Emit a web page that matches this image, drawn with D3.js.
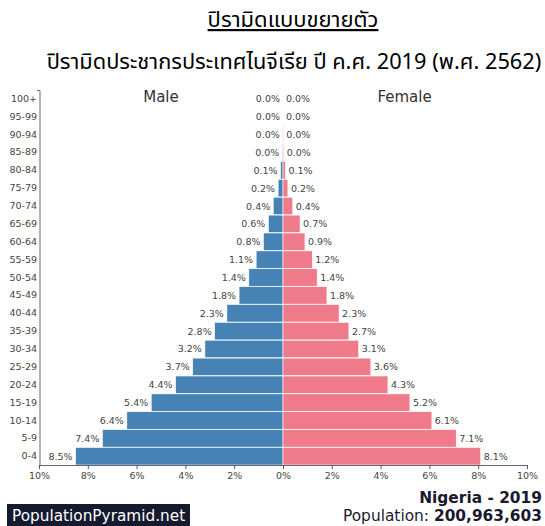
<!DOCTYPE html>
<html><head><meta charset="utf-8">
<script src="https://cdn.jsdelivr.net/npm/d3@7"></script>
<style>body{margin:0;background:#fff}svg{display:block}</style>
</head><body>
<svg id="c" width="545" height="526"></svg>
<script>
const ageGroups = ["100+","95-99","90-94","85-89","80-84","75-79","70-74","65-69","60-64","55-59","50-54","45-49","40-44","35-39","30-34","25-29","20-24","15-19","10-14","5-9","0-4"];
const maleValues = [0.0,0.0,0.01,0.03,0.1,0.2,0.4,0.6,0.8,1.1,1.4,1.8,2.3,2.8,3.2,3.7,4.4,5.4,6.4,7.4,8.5];
const femaleValues = [0.0,0.0,0.01,0.03,0.1,0.2,0.4,0.7,0.9,1.2,1.4,1.8,2.3,2.7,3.1,3.6,4.3,5.2,6.1,7.1,8.1];
const xTicks = [10,8,6,4,2,0,2,4,6,8,10];

const svg = d3.select("#c");
const font = "'DejaVu Sans', sans-serif";
const thai = "'Noto Sans Thai','Noto Sans','Tahoma',sans-serif";
const cx = 283;
const left = d3.scaleLinear().domain([0,10]).range([cx, 39]);
const right = d3.scaleLinear().domain([0,10]).range([cx, 527]);
const y = d3.scaleBand().domain(ageGroups).range([90, 465]).paddingInner(0.02);

// titles
svg.append("text").attr("x",293).attr("y",27).attr("text-anchor","middle")
  .attr("font-family",thai).attr("font-size",22).attr("fill","#000")
  .attr("text-decoration","underline").text("ปิรามิดแบบขยายตัว");
svg.append("text").attr("x",294).attr("y",69).attr("text-anchor","middle")
  .attr("font-family",thai).attr("font-size",21.8).attr("fill","#000")
  .text("ปิรามิดประชากรประเทศไนจีเรีย ปี ค.ศ. 2019 (พ.ศ. 2562)");

svg.append("text").attr("x",161).attr("y",102).attr("text-anchor","middle")
  .attr("font-family",font).attr("font-size",15).attr("fill","#333").text("Male");
svg.append("text").attr("x",404.5).attr("y",102).attr("text-anchor","middle")
  .attr("font-family",font).attr("font-size",15).attr("fill","#333").text("Female");

// bars
svg.append("g").selectAll("rect").data(ageGroups).join("rect")
  .attr("x",(d,i)=>left(maleValues[i])).attr("y",d=>y(d))
  .attr("width",(d,i)=>cx-left(maleValues[i])).attr("height",y.bandwidth())
  .attr("fill","#4682b4").attr("stroke","#fff").attr("stroke-width",0.6);
svg.append("g").selectAll("rect").data(ageGroups).join("rect")
  .attr("x",cx).attr("y",d=>y(d))
  .attr("width",(d,i)=>right(femaleValues[i])-cx).attr("height",y.bandwidth())
  .attr("fill","#ef7a8a").attr("stroke","#fff").attr("stroke-width",0.6);

// value labels
svg.append("g").selectAll("text").data(ageGroups).join("text")
  .attr("x",(d,i)=>left(maleValues[i])-3).attr("y",d=>y(d)+y.bandwidth()/2+3.5)
  .attr("text-anchor","end").attr("font-family",font).attr("font-size",9.5).attr("fill","#444")
  .text((d,i)=>maleValues[i].toFixed(1)+"%");
svg.append("g").selectAll("text").data(ageGroups).join("text")
  .attr("x",(d,i)=>right(femaleValues[i])+3).attr("y",d=>y(d)+y.bandwidth()/2+3.5)
  .attr("text-anchor","start").attr("font-family",font).attr("font-size",9.5).attr("fill","#444")
  .text((d,i)=>femaleValues[i].toFixed(1)+"%");

// y axis
const yAxis = svg.append("g").attr("transform","translate(40,0)")
  .call(d3.axisLeft(y).tickSize(0).tickPadding(3));
yAxis.select(".domain").attr("stroke","#667").attr("stroke-width",1).attr("d","M-3,90.5H0V465");
yAxis.selectAll("text").attr("font-family",font).attr("font-size",9.5).attr("fill","#444");

// x axis
const xs = d3.scaleLinear().domain([-10,10]).range([39,527]);
const xAxis = svg.append("g").attr("transform","translate(0,465)")
  .call(d3.axisBottom(xs).tickValues(d3.range(-10,11,2)).tickSize(4).tickPadding(3)
    .tickFormat((d,i)=>xTicks[i]+"%"));
xAxis.select(".domain").attr("stroke","#667").attr("d","M39,0.5H527");
xAxis.selectAll(".tick line").attr("stroke","#556");
xAxis.selectAll("text").attr("font-family",font).attr("font-size",9.5).attr("fill","#444");

// footer
svg.append("rect").attr("x",7).attr("y",504).attr("width",183).attr("height",22).attr("fill","#151a2e");
svg.append("text").attr("x",12).attr("y",521).attr("font-family",font).attr("font-size",15.3)
  .attr("fill","#fff").text("PopulationPyramid.net");
svg.append("text").attr("x",542).attr("y",503).attr("text-anchor","end").attr("font-family",font)
  .attr("font-size",15.4).attr("font-weight","bold").attr("fill","#1a1a2e").text("Nigeria - 2019");
const pop = svg.append("text").attr("x",542).attr("y",521).attr("text-anchor","end").attr("font-family",font)
  .attr("font-size",15.4).attr("fill","#1a1a2e");
pop.append("tspan").text("Population: ");
pop.append("tspan").attr("font-weight","bold").text("200,963,603");
</script>
</body></html>
